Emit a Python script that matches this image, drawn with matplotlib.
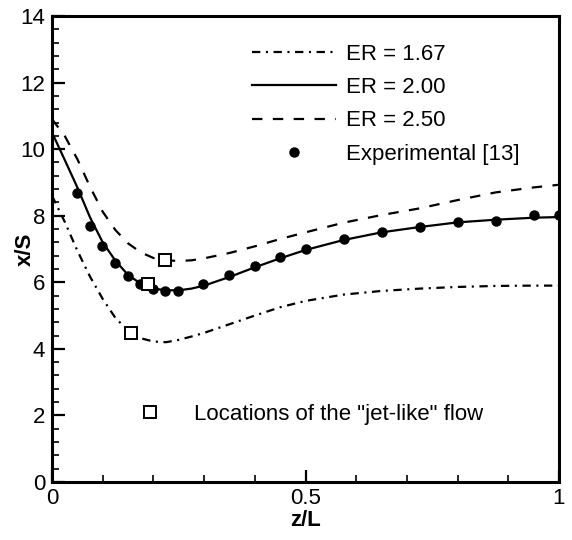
import matplotlib
matplotlib.use("Agg")
import matplotlib.pyplot as plt
from matplotlib.lines import Line2D

plt.rcParams['font.family'] = ['Liberation Sans', 'DejaVu Sans']
plt.rcParams['lines.scale_dashes'] = False

# ---- data ----
z_curve = [0, 0.025, 0.05, 0.075, 0.1, 0.125, 0.15, 0.175, 0.2, 0.225, 0.25, 0.275,
           0.3, 0.35, 0.4, 0.45, 0.5, 0.575, 0.65, 0.725, 0.8, 0.875, 0.95, 1.0]
er167 = [8.6, 7.82, 6.95, 6.17, 5.5, 4.93, 4.55, 4.32, 4.22, 4.2, 4.27, 4.37,
         4.48, 4.74, 5.0, 5.25, 5.44, 5.63, 5.74, 5.81, 5.86, 5.89, 5.9, 5.9]
er200 = [10.5, 9.68, 8.85, 7.95, 7.2, 6.65, 6.22, 5.96, 5.81, 5.76, 5.76, 5.81,
         5.9, 6.16, 6.45, 6.72, 6.97, 7.27, 7.5, 7.66, 7.8, 7.88, 7.94, 7.96]
er250 = [10.9, 10.4, 9.7, 8.87, 8.12, 7.57, 7.17, 6.9, 6.73, 6.66, 6.64, 6.66,
         6.72, 6.88, 7.08, 7.3, 7.5, 7.79, 8.02, 8.22, 8.47, 8.7, 8.85, 8.93]

z_exp = [0.049, 0.074, 0.098, 0.124, 0.149, 0.174, 0.199, 0.223, 0.248, 0.298, 0.35,
         0.4, 0.45, 0.5, 0.575, 0.65, 0.726, 0.801, 0.876, 0.951, 1.0]
x_exp = [8.69, 7.69, 7.09, 6.59, 6.19, 5.95, 5.79, 5.75, 5.75, 5.95, 6.21,
         6.5, 6.77, 7.0, 7.3, 7.52, 7.65, 7.82, 7.85, 8.02, 8.02]

z_jet = [0.156, 0.19, 0.223]
x_jet = [4.49, 5.96, 6.67]

labels = ['ER = 1.67', 'ER = 2.00', 'ER = 2.50', 'Experimental [13]']
jet_label = 'Locations of the "jet-like" flow'
xticks = [0, 0.5, 1]
xticklabels = ['0', '0.5', '1']
yticks = [0, 2, 4, 6, 8, 10, 12, 14]

fig = plt.figure(figsize=(5.72, 5.40), dpi=100)
ax = fig.add_axes([52/572, 58/540, 507/572, 466/540])

lw = 1.6
dashdot = (0, (6.0, 4.0, 1.5, 4.0))
dashed = (0, (7.5, 7.5))

l1, = ax.plot(z_curve, er167, color='black', lw=lw, linestyle=dashdot)
l2, = ax.plot(z_curve, er200, color='black', lw=lw, linestyle='-')
l3, = ax.plot(z_curve, er250, color='black', lw=lw, linestyle=dashed)
pe, = ax.plot(z_exp, x_exp, linestyle='none', marker='o', ms=6.5, color='black', zorder=4)
ax.plot(z_jet, x_jet, linestyle='none', marker='s', ms=9, mfc='white', mec='black',
        mew=1.4, zorder=5)

ax.set_xlim(0, 1)
ax.set_ylim(0, 14)
ax.set_xticks(xticks)
ax.set_xticklabels(xticklabels)
ax.set_yticks(yticks)
ax.set_xticks([i / 10 for i in range(11)], minor=True)
ax.set_yticks([i * 0.4 for i in range(36)], minor=True)

for s in ax.spines.values():
    s.set_linewidth(2.2)
ax.tick_params(which='major', direction='in', length=9, width=1.6, labelsize=16,
               top=False, right=False)
ax.tick_params(which='minor', direction='in', length=5, width=1.2, top=False, right=False)
ax.tick_params(axis='y', pad=5)
ax.tick_params(axis='x', pad=4)

ax.set_xlabel('z/L', fontsize=16, fontweight='bold')
ax.set_ylabel('x/S', fontsize=16, fontweight='bold')
ax.xaxis.set_label_coords(0.5, -0.06)
ax.yaxis.set_label_coords(-0.032, 0.5)

leg = ax.legend([l1, l2, l3, pe], labels, loc='upper left', bbox_to_anchor=(0.394, 0.94),
                frameon=False, fontsize=16, handlelength=3.8, handletextpad=0.45,
                labelspacing=0.55, borderpad=0, borderaxespad=0, numpoints=1)
ax.add_artist(leg)

jet_handle = Line2D([], [], linestyle='none', marker='s', ms=9, mfc='white', mec='black', mew=1.4)
ax.legend([jet_handle], [jet_label], loc='center left', bbox_to_anchor=(0.172, 0.145),
          frameon=False, fontsize=16, handlelength=1.0, handletextpad=1.45,
          borderpad=0, borderaxespad=0, numpoints=1)

fig.savefig('out.png', dpi=100)
